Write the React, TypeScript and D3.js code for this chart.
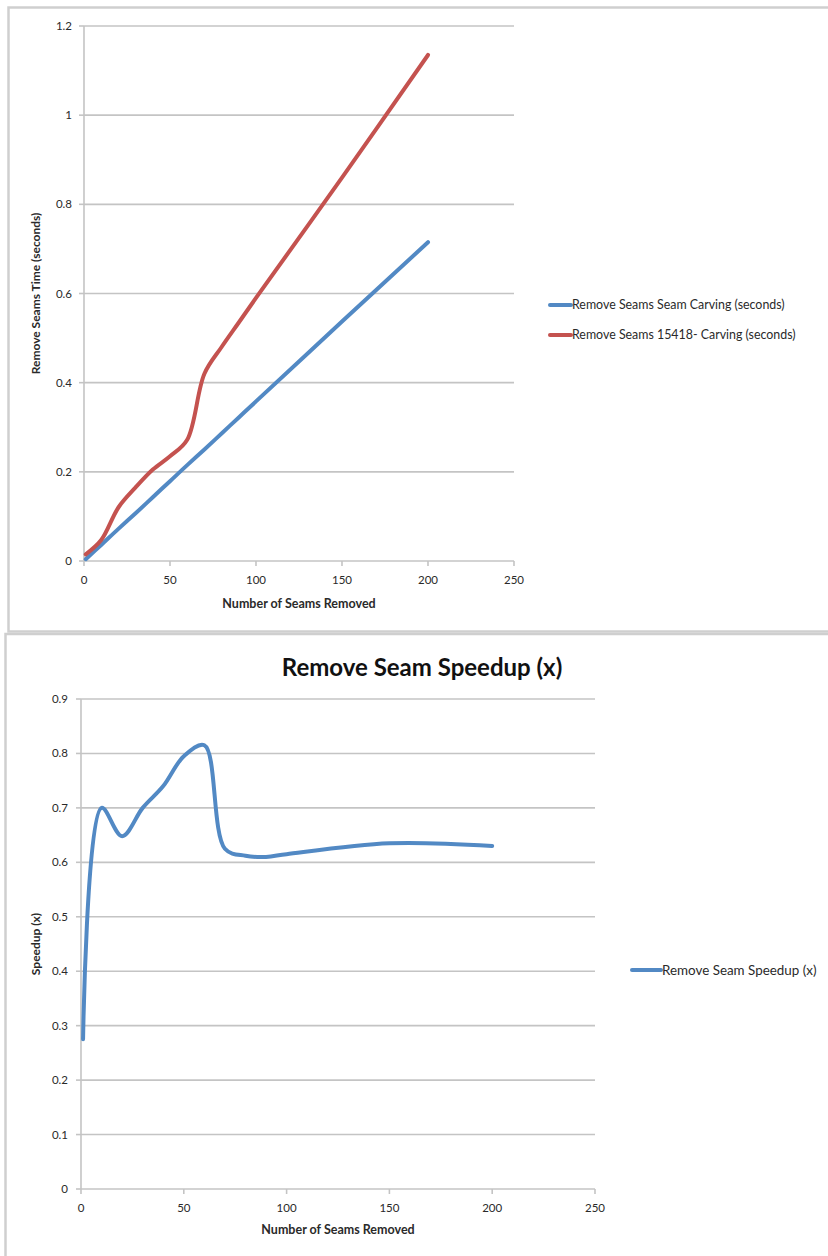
import React from "react";
import * as d3 from "d3";

// Seams removed at each measurement
const seams = [1, 10, 20, 30, 40, 50, 60, 70, 80, 90, 100, 150, 200];
// Remove-seams timings (seconds)
const seamCarving = [0.004, 0.036, 0.072, 0.107, 0.143, 0.179, 0.215, 0.25, 0.286, 0.322, 0.358, 0.537, 0.715];
const carving15418 = [0.015, 0.047, 0.12, 0.165, 0.205, 0.235, 0.272, 0.42, 0.48, 0.535, 0.59, 0.86, 1.135];
// Speedup (x)
const speedup = [0.275, 0.7, 0.648, 0.7, 0.74, 0.795, 0.815, 0.625, 0.612, 0.61, 0.615, 0.635, 0.63];

const xTicks = [0, 50, 100, 150, 200, 250];
const timeTicks = [0, 0.2, 0.4, 0.6, 0.8, 1, 1.2];
const speedTicks = [0, 0.1, 0.2, 0.3, 0.4, 0.5, 0.6, 0.7, 0.8, 0.9];

const seriesTop = [
  { name: "Remove Seams Seam Carving (seconds)", values: seamCarving, color: "#5289c4" },
  { name: "Remove Seams 15418- Carving (seconds)", values: carving15418, color: "#c4524f" },
];

const FONT = "Lato, 'Open Sans', sans-serif";
const GRID = "#c4c4c4";
const TEXT = "#2a2a2a";

type Pt = [number, number];

function Chart(props: {
  x: d3.ScaleLinear<number, number>;
  y: d3.ScaleLinear<number, number>;
  yTicks: number[];
  yFmt: (v: number) => string;
  lines: { name: string; values: number[]; color: string }[];
  xTitle: string;
  yTitle: string;
  yTitleX: number;
  tickLabelX: number;
  tickSize: number;
  xLabelY: number;
  xTitleY: number;
  titleSize: number;
  yTitleSize: number;
  legendX: number;
  legendLen: number;
  legendY: number;
  legendGap: number;
  legendSize: number;
}) {
  const { x, y, yTicks, yFmt, lines } = props;
  const [x0, x1] = x.range();
  const [y0, y1] = y.range();
  const gen = d3
    .line<Pt>()
    .x((d) => x(d[0]))
    .y((d) => y(d[1]))
    .curve(d3.curveCatmullRom.alpha(0.5));
  return (
    <g fontFamily={FONT}>
      {yTicks.map((t) => (
        <g key={"y" + t}>
          <line x1={x0} x2={x1} y1={y(t)} y2={y(t)} stroke={GRID} strokeWidth={1.6} />
          <line x1={x0 - 5} x2={x0} y1={y(t)} y2={y(t)} stroke={GRID} strokeWidth={1.6} />
          <text x={props.tickLabelX} y={y(t)} dy="0.35em" textAnchor="end" fontSize={props.tickSize} fill={TEXT}>
            {yFmt(t)}
          </text>
        </g>
      ))}
      <line x1={x0} x2={x0} y1={y0} y2={y1} stroke={GRID} strokeWidth={1.6} />
      {xTicks.map((t) => (
        <g key={"x" + t}>
          <line x1={x(t)} x2={x(t)} y1={y0} y2={y0 + 5} stroke={GRID} strokeWidth={1.6} />
          <text x={x(t)} y={props.xLabelY} textAnchor="middle" fontSize={props.tickSize} fill={TEXT}>
            {t}
          </text>
        </g>
      ))}
      <text
        x={(x0 + x1) / 2}
        y={props.xTitleY}
        textAnchor="middle"
        fontSize={props.titleSize}
        fontWeight="bold"
        fill={TEXT}
      >
        {props.xTitle}
      </text>
      <text
        transform={`translate(${props.yTitleX},${(y0 + y1) / 2}) rotate(-90)`}
        textAnchor="middle"
        fontSize={props.yTitleSize}
        fontWeight="bold"
        fill={TEXT}
      >
        {props.yTitle}
      </text>
      {lines.map((s) => (
        <path
          key={s.name}
          d={gen(seams.map((v, i) => [v, s.values[i]] as Pt)) || ""}
          fill="none"
          stroke={s.color}
          strokeWidth={4}
          strokeLinejoin="round"
          strokeLinecap="round"
        />
      ))}
      {lines.map((s, i) => {
        const ly = props.legendY + i * props.legendGap;
        return (
          <g key={"lg" + s.name}>
            <line
              x1={props.legendX}
              x2={props.legendX + props.legendLen}
              y1={ly}
              y2={ly}
              stroke={s.color}
              strokeWidth={4}
              strokeLinecap="round"
            />
            <text
              x={props.legendX + props.legendLen + 1}
              y={ly}
              dy="0.35em"
              fontSize={props.legendSize}
              fill={TEXT}
            >
              {s.name}
            </text>
          </g>
        );
      })}
    </g>
  );
}

export default function App() {
  const xTop = d3.scaleLinear().domain([0, 250]).range([84, 514]);
  const yTop = d3.scaleLinear().domain([0, 1.2]).range([561, 26]);
  const xBot = d3.scaleLinear().domain([0, 250]).range([81, 595]);
  const yBot = d3.scaleLinear().domain([0, 0.9]).range([1189, 699]);

  return (
    <svg
      width={828}
      height={1256}
      style={{ position: "absolute", left: 0, top: 0, background: "#fff" }}
    >
      <rect x={0} y={0} width={828} height={1256} fill="#fff" />
      {/* chart frames */}
      <rect x={8.5} y={7.5} width={830} height={624} fill="none" stroke="#cfcfcf" strokeWidth={2.5} />
      <rect x={5.5} y={634} width={830} height={640} fill="none" stroke="#cfcfcf" strokeWidth={2.5} />

      <Chart
        x={xTop}
        y={yTop}
        yTicks={timeTicks}
        yFmt={(v) => String(v)}
        lines={seriesTop}
        xTitle="Number of Seams Removed"
        yTitle="Remove Seams Time (seconds)"
        yTitleX={40}
        tickLabelX={72}
        tickSize={11.5}
        xLabelY={584}
        xTitleY={608}
        titleSize={12.5}
        yTitleSize={12}
        legendX={550}
        legendLen={21}
        legendY={305}
        legendGap={30}
        legendSize={12.4}
      />

      <text
        x={422}
        y={676}
        textAnchor="middle"
        fontFamily={FONT}
        fontSize={24}
        fontWeight="bold"
        fill="#111"
      >
        Remove Seam Speedup (x)
      </text>
      <Chart
        x={xBot}
        y={yBot}
        yTicks={speedTicks}
        yFmt={(v) => String(v)}
        lines={[{ name: "Remove Seam Speedup (x)", values: speedup, color: "#5289c4" }]}
        xTitle="Number of Seams Removed"
        yTitle="Speedup (x)"
        yTitleX={40}
        tickLabelX={68}
        tickSize={11.5}
        xLabelY={1212}
        xTitleY={1234}
        titleSize={12.5}
        yTitleSize={12}
        legendX={632}
        legendLen={29}
        legendY={970}
        legendGap={30}
        legendSize={13.4}
      />
    </svg>
  );
}
